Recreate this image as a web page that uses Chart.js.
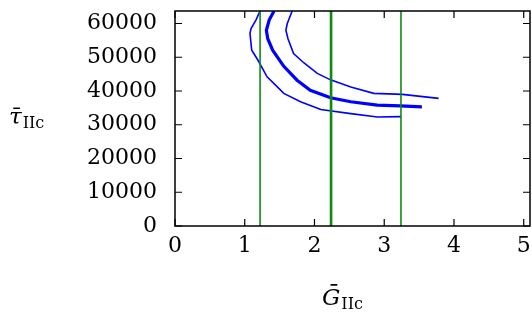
<!DOCTYPE html>
<html>
<head>
<meta charset="utf-8">
<script src="https://cdn.jsdelivr.net/npm/chart.js@4.4.0/dist/chart.umd.min.js"></script>
<style>
  html, body { margin: 0; padding: 0; background: #fff; }
  #wrap { width: 532px; height: 322px; }
</style>
</head>
<body>
<div id="wrap"><canvas id="chart"></canvas></div>
<script>
// axis ticks
const xTicks = [0, 1, 2, 3, 4, 5];
const yTicks = [0, 10000, 20000, 30000, 40000, 50000, 60000];

// green vertical markers (G values)
const markerX = [1.22, 2.23, 2.245, 3.24];

// blue curves
const lowerX = [1.22, 1.16, 1.09, 1.075, 1.10, 1.19, 1.32, 1.42, 1.56, 1.80, 2.09, 2.52, 2.90, 3.24];
const lowerY = [63700, 61000, 58500, 57000, 52100, 49100, 44200, 42200, 39300, 36800, 34500, 33300, 32300, 32400];

const meanX = [1.42, 1.35, 1.31, 1.33, 1.40, 1.56, 1.75, 1.94, 2.23, 2.52, 2.90, 3.23, 3.54];
const meanY = [63700, 61000, 58000, 55500, 52100, 47300, 43200, 40200, 38000, 36800, 35800, 35600, 35300];

const upperX = [1.68, 1.61, 1.59, 1.62, 1.70, 1.85, 2.04, 2.23, 2.52, 2.85, 3.26, 3.78];
const upperY = [63700, 60000, 58000, 55500, 51100, 48300, 45200, 43300, 41200, 39300, 39000, 37800];

const X_MAX = 5.09;
const Y_MAX = 63700;

const FONT = 'DejaVu Serif';

function pts(xs, ys) {
    return xs.map((x, i) => ({ x: x, y: ys[i] }));
}

const datasets = [];
markerX.forEach(x => {
    datasets.push({
        data: [{ x: x, y: 0 }, { x: x, y: Y_MAX }],
        borderColor: '#0f8a0f',
        borderWidth: 1.6
    });
});
datasets.push({ data: pts(upperX, upperY), borderColor: '#0000ff', borderWidth: 1.6 });
datasets.push({ data: pts(meanX, meanY), borderColor: '#0000ff', borderWidth: 3.2 });
datasets.push({ data: pts(lowerX, lowerY), borderColor: '#0000ff', borderWidth: 1.6 });

// no extra room for overhanging tick labels
function noPad(scale) {
    scale.paddingTop = 0;
    scale.paddingBottom = 0;
    scale.paddingLeft = 0;
    scale.paddingRight = 0;
}

// frame, inward ticks and the two axis titles
const framePlugin = {
    id: 'frame',
    afterDraw(chart) {
        const { ctx, chartArea: a, scales } = chart;
        ctx.save();
        ctx.strokeStyle = '#000';
        ctx.lineWidth = 1.5;
        ctx.strokeRect(a.left, a.top, a.right - a.left, a.bottom - a.top);
        ctx.lineWidth = 1.2;
        ctx.beginPath();
        xTicks.forEach(v => {
            const px = scales.x.getPixelForValue(v);
            ctx.moveTo(px, a.bottom); ctx.lineTo(px, a.bottom - 7);
            ctx.moveTo(px, a.top); ctx.lineTo(px, a.top + 7);
        });
        yTicks.forEach(v => {
            const py = scales.y.getPixelForValue(v);
            ctx.moveTo(a.left, py); ctx.lineTo(a.left + 7, py);
            ctx.moveTo(a.right, py); ctx.lineTo(a.right - 7, py);
        });
        ctx.stroke();

        ctx.fillStyle = '#000';
        ctx.textBaseline = 'alphabetic';
        ctx.textAlign = 'left';
        // y title
        ctx.font = 'italic 23px ' + FONT;
        ctx.fillText('\u03C4\u0304', 9, 124);
        let w = ctx.measureText('\u03C4').width;
        ctx.font = '16px ' + FONT;
        ctx.fillText('IIc', 9 + w + 1, 128);
        // x title
        ctx.font = 'italic 23px ' + FONT;
        ctx.fillText('G\u0304', 322, 305);
        w = ctx.measureText('G').width;
        ctx.font = '16px ' + FONT;
        ctx.fillText('IIc', 322 + w + 1, 309);
        ctx.restore();
    }
};

new Chart(document.getElementById('chart'), {
    type: 'line',
    data: { datasets: datasets },
    options: {
        responsive: true,
        maintainAspectRatio: false,
        animation: false,
        layout: { padding: { top: 11, right: 2, left: 0, bottom: 0 } },
        elements: {
            point: { radius: 0 },
            line: { tension: 0, fill: false }
        },
        plugins: {
            legend: { display: false },
            tooltip: { enabled: false }
        },
        scales: {
            x: {
                type: 'linear',
                min: 0,
                max: X_MAX,
                afterBuildTicks: scale => { scale.ticks = xTicks.map(v => ({ value: v })); },
                afterFit: scale => { scale.height = 96; noPad(scale); },
                grid: { display: false, drawTicks: false },
                border: { display: false },
                ticks: {
                    color: '#000',
                    padding: 7,
                    maxRotation: 0,
                    font: { family: FONT, size: 22 },
                    callback: v => String(v)
                }
            },
            y: {
                type: 'linear',
                min: 0,
                max: Y_MAX,
                afterBuildTicks: scale => { scale.ticks = yTicks.map(v => ({ value: v })); },
                afterFit: scale => { scale.width = 175; noPad(scale); },
                grid: { display: false, drawTicks: false },
                border: { display: false },
                ticks: {
                    color: '#000',
                    padding: 18,
                    font: { family: FONT, size: 22 },
                    callback: v => String(v)
                }
            }
        }
    },
    plugins: [framePlugin]
});
</script>
</body>
</html>
